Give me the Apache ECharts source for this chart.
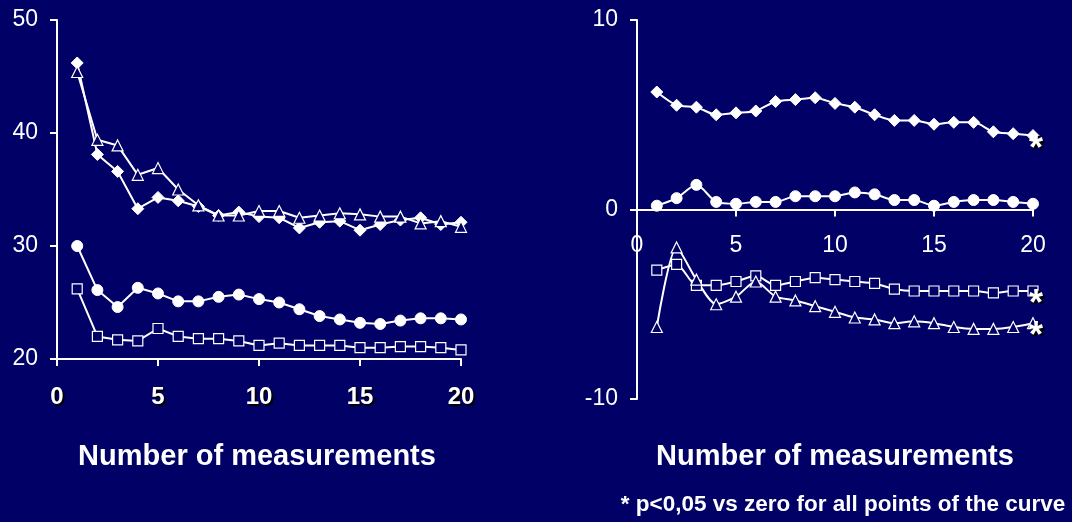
<!DOCTYPE html>
<html>
<head>
<meta charset="utf-8">
<script src="https://cdn.jsdelivr.net/npm/echarts@6/dist/echarts.min.js"></script>
<style>
  html, body { margin: 0; padding: 0; background: #000066; }
  #chart { width: 1072px; height: 522px; }
</style>
</head>
<body>
<div id="chart"></div>
<script>
// Measurement index (1..20)
const measurements = [1,2,3,4,5,6,7,8,9,10,11,12,13,14,15,16,17,18,19,20];

// Left panel: absolute values
const leftDiamond  = [46.2,38.1,36.6,33.3,34.3,34.0,33.5,32.7,33.0,32.6,32.5,31.6,32.1,32.2,31.4,31.9,32.3,32.5,31.9,32.1];
const leftTriangle = [45.4,39.4,38.9,36.3,36.9,35.0,33.6,32.7,32.7,33.1,33.1,32.5,32.7,32.9,32.8,32.6,32.6,32.0,32.2,31.7];
const leftCircle   = [30.0,26.1,24.6,26.3,25.8,25.1,25.1,25.5,25.7,25.3,25.0,24.4,23.8,23.5,23.2,23.1,23.4,23.6,23.6,23.5];
const leftSquare   = [26.2,22.0,21.7,21.6,22.7,22.0,21.8,21.8,21.6,21.2,21.4,21.2,21.2,21.2,21.0,21.0,21.1,21.1,21.0,20.8];

// Right panel: differences
const rightDiamond  = [6.2,5.5,5.4,5.0,5.1,5.2,5.7,5.8,5.9,5.6,5.4,5.0,4.7,4.7,4.5,4.6,4.6,4.1,4.0,3.9];
const rightCircle   = [0.2,0.6,1.3,0.4,0.3,0.4,0.4,0.7,0.7,0.7,0.9,0.8,0.5,0.5,0.2,0.4,0.5,0.5,0.4,0.3];
const rightSquare   = [-3.2,-2.9,-4.0,-4.0,-3.8,-3.5,-4.0,-3.8,-3.6,-3.7,-3.8,-3.9,-4.2,-4.3,-4.3,-4.3,-4.3,-4.4,-4.3,-4.3];
const rightTriangle = [-6.2,-2.0,-3.7,-5.0,-4.6,-3.8,-4.6,-4.8,-5.1,-5.4,-5.7,-5.8,-6.0,-5.9,-6.0,-6.2,-6.3,-6.3,-6.2,-6.0];

// Axis ticks
const xTicks = [0, 5, 10, 15, 20];
const leftYTicks = [20, 30, 40, 50];
const rightYTicks = [-10, 0, 10];

// Series that carry the significance marker
const significant = ['rDiamond', 'rSquare', 'rTriangle'];

const BG = '#000066';
const FG = '#ffffff';
const FONT = '"Liberation Sans", Arial, sans-serif';
const shadow = { textShadowColor: '#000000', textShadowOffsetX: 2, textShadowOffsetY: 2, textShadowBlur: 1 };

const grids = [
  { left: 57, top: 20, width: 404, height: 339 },
  { left: 637, top: 20, width: 396, height: 379 }
];

const pairs = vals => vals.map((v, i) => [measurements[i], v]);

const symbolStyles = {
  diamond:  { symbol: 'diamond',  symbolSize: 12, itemStyle: { color: FG, borderColor: FG, borderWidth: 1 } },
  circle:   { symbol: 'circle',   symbolSize: 11, itemStyle: { color: FG, borderColor: FG, borderWidth: 1 } },
  square:   { symbol: 'rect',     symbolSize: 10, itemStyle: { color: BG, borderColor: FG, borderWidth: 1.2 } },
  triangle: { symbol: 'triangle', symbolSize: 11, itemStyle: { color: BG, borderColor: FG, borderWidth: 1.2 } }
};

function makeSeries(id, vals, kind, idx, smooth) {
  const s = Object.assign({
    id: id,
    type: 'line',
    xAxisIndex: idx,
    yAxisIndex: idx,
    data: pairs(vals),
    showAllSymbol: true,
    smooth: smooth ? 0.25 : false,
    lineStyle: { color: FG, width: 2 },
    emphasis: { disabled: true },
    animation: false,
    z: kind === 'square' || kind === 'triangle' ? 3 : 2
  }, symbolStyles[kind]);
  if (significant.includes(id)) {
    s.endLabel = Object.assign({
      show: true,
      formatter: '*',
      color: FG,
      fontSize: 36,
      fontWeight: 'bold',
      fontFamily: FONT,
      offset: [-12, 14]
    }, shadow);
  }
  return s;
}

// x axis; on the right panel it is shifted up to sit on y = 0
function xAxisCfg(idx, bold, yTicks) {
  const yMin = yTicks[0], yMax = yTicks[yTicks.length - 1];
  const zeroShift = (yMin < 0 && yMax > 0) ? -(0 - yMin) / (yMax - yMin) * grids[idx].height : 0;
  return {
    type: 'value',
    gridIndex: idx,
    position: 'bottom',
    offset: zeroShift,
    min: xTicks[0],
    max: xTicks[xTicks.length - 1],
    interval: 5,
    axisLine: { onZero: false, lineStyle: { color: FG, width: 2 } },
    axisTick: { show: true, length: 7, lineStyle: { color: FG, width: 2 } },
    splitLine: { show: false },
    axisLabel: Object.assign({
      color: FG,
      fontSize: bold ? 24 : 23,
      fontWeight: bold ? 'bold' : 'normal',
      fontFamily: FONT,
      margin: bold ? 26 : 25
    }, bold ? shadow : {})
  };
}

function yAxisCfg(idx, ticks) {
  return {
    type: 'value',
    gridIndex: idx,
    min: ticks[0],
    max: ticks[ticks.length - 1],
    interval: 10,
    axisLine: { show: true, onZero: false, lineStyle: { color: FG, width: 2 } },
    axisTick: { show: true, length: 7, lineStyle: { color: FG, width: 2 } },
    splitLine: { show: false },
    axisLabel: { color: FG, fontSize: 23, fontFamily: FONT, margin: 19 }
  };
}

const nameStyle = { fill: FG, font: 'bold 29px ' + FONT, textAlign: 'center', textVerticalAlign: 'middle', shadowColor: '#000', shadowOffsetX: 2, shadowOffsetY: 2, shadowBlur: 1 };

const chart = echarts.init(document.getElementById('chart'), null, { renderer: 'canvas' });

chart.setOption({
  backgroundColor: BG,
  animation: false,
  grid: grids,
  xAxis: [xAxisCfg(0, true, leftYTicks), xAxisCfg(1, false, rightYTicks)],
  yAxis: [yAxisCfg(0, leftYTicks), yAxisCfg(1, rightYTicks)],
  series: [
    makeSeries('lTriangle', leftTriangle, 'triangle', 0, false),
    makeSeries('lDiamond', leftDiamond, 'diamond', 0, false),
    makeSeries('lCircle', leftCircle, 'circle', 0, false),
    makeSeries('lSquare', leftSquare, 'square', 0, false),
    makeSeries('rDiamond', rightDiamond, 'diamond', 1, true),
    makeSeries('rCircle', rightCircle, 'circle', 1, true),
    makeSeries('rSquare', rightSquare, 'square', 1, true),
    makeSeries('rTriangle', rightTriangle, 'triangle', 1, true)
  ],
  graphic: [
    { type: 'text', x: 257, y: 457, style: Object.assign({ text: 'Number of measurements' }, nameStyle) },
    { type: 'text', x: 835, y: 457, style: Object.assign({ text: 'Number of measurements' }, nameStyle) },
    { type: 'text', x: 843, y: 505, style: { text: '* p<0,05 vs zero for all points of the curve', fill: FG, font: 'bold 22.5px ' + FONT, textAlign: 'center', textVerticalAlign: 'middle', shadowColor: '#000', shadowOffsetX: 1, shadowOffsetY: 1, shadowBlur: 1 } }
  ]
});
</script>
</body>
</html>
